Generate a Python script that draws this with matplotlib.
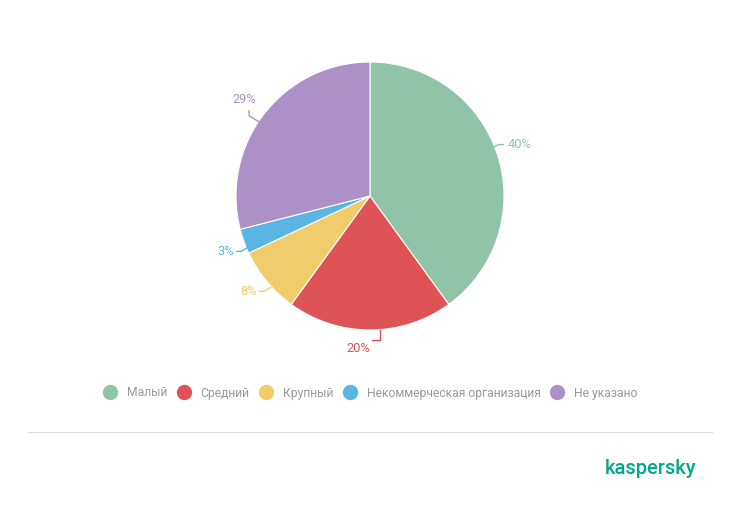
import numpy as np
import matplotlib
matplotlib.use("Agg")
import matplotlib.pyplot as plt
from matplotlib.lines import Line2D

categories = ["Малый", "Средний", "Крупный", "Некоммерческая организация", "Не указано"]
shares = [40, 20, 8, 3, 29]
colors = ["#8fc4a8", "#de5456", "#f0cc6b", "#5ab5e3", "#ab91c8"]

plt.rcParams["font.family"] = ["Roboto", "DejaVu Sans"]

W, H = 740, 507
fig = plt.figure(figsize=(W / 100, H / 100), dpi=100)
ax = fig.add_axes([0, 0, 1, 1])

cx, cy, r = 370, H - 196, 134
wedges, _ = ax.pie(shares, colors=colors, startangle=90, counterclock=False,
                   center=(cx, cy), radius=r, frame=True,
                   wedgeprops=dict(linewidth=0.8, edgecolor="white"))
ax.set_xlim(0, W)
ax.set_ylim(0, H)
ax.set_aspect("equal")
ax.axis("off")

# data labels with short leader lines
fs = 9.3
for w, val, col in zip(wedges, shares, colors):
    ang = np.deg2rad((w.theta1 + w.theta2) / 2)
    x0, y0 = cx + r * np.cos(ang), cy + r * np.sin(ang)
    side = 1 if np.cos(ang) >= 0 else -1
    if abs(np.cos(ang)) < 0.3:
        # bottom slice: vertical then horizontal
        xs = x0 + 10
        ax.plot([xs, xs, xs - 8], [y0, y0 - 10, y0 - 10], color=col, lw=1)
        ax.text(xs - 10, y0 - 18, f"{val}%", color=col, fontsize=fs,
                ha="right", va="center")
    elif np.sin(ang) > 0.5 and side < 0:
        # upper-left slice: diagonal then vertical, label above
        xa, ya = x0 - 5, y0 - 8
        x1, y1 = x0 - 15, y0 - 2
        ax.plot([xa, x1, x1], [ya, y1, y1 + 5], color=col, lw=1)
        ax.text(x0 - 20, y0 + 14, f"{val}%", color=col, fontsize=fs,
                ha="center", va="center")
    elif side < 0:
        # lower-left slices
        xa, ya = x0 + 4, y0 - 6
        x1, y1 = x0 - 3, y0 - 10
        x2 = x0 - 7
        ax.plot([xa, x1, x2], [ya, y1, y1], color=col, lw=1)
        ax.text(x2 - 3, y1, f"{val}%", color=col, fontsize=fs,
                ha="right", va="center")
    else:
        xa, ya = x0 - 3, y0 + 8
        x1, y1 = x0 + 1, y0 + 10
        x2 = x1 + 5
        ax.plot([xa, x1, x2], [ya, y1, y1], color=col, lw=1)
        ax.text(x2 + 4, y1, f"{val}%", color=col, fontsize=fs,
                ha="left", va="center")

handles = [Line2D([], [], marker="o", linestyle="", markersize=10,
                  markerfacecolor=c, markeredgecolor=c) for c in colors]
fig.legend(handles, categories, loc="center", bbox_to_anchor=(0.5, 1 - 393 / H),
           ncol=5, frameon=False, fontsize=8.7, labelcolor="#999999",
           handletextpad=0.8, columnspacing=0.75, handlelength=1.2)

ax.plot([28, 712], [H - 432, H - 432], color="#dddddd", lw=0.8)
fig.text(650 / W, 1 - 468 / H, "kaspersky", color="#00a88e", fontsize=14.5,
         ha="center", va="center", fontweight="medium")

fig.savefig("out.png", dpi=100, facecolor="white")
